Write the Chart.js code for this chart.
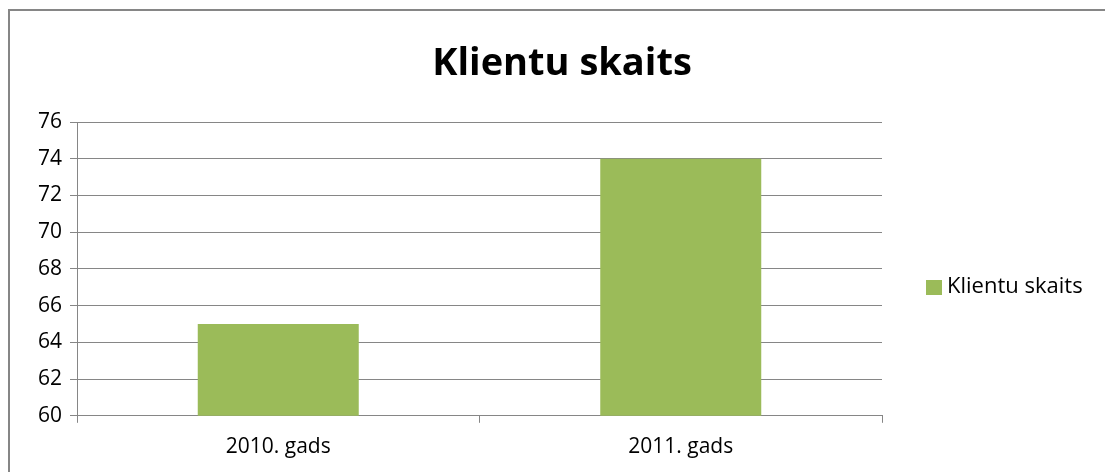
<!DOCTYPE html>
<html>
<head>
<meta charset="utf-8">
<script src="https://cdn.jsdelivr.net/npm/chart.js@4"></script>
<style>
html,body{margin:0;padding:0;background:#fff;overflow:hidden;width:1105px;height:472px;}
#frame{position:absolute;left:8px;top:9px;width:1104px;height:480px;border:2px solid #868686;box-sizing:content-box;}
#wrap{position:absolute;left:0;top:0;width:1104px;height:461px;}
</style>
</head>
<body>
<div id="frame"><div id="wrap"><canvas id="c"></canvas></div></div>
<script>
const categories = ["2010. gads", "2011. gads"];
const seriesName = "Klientu skaits";
const values = [65, 74];
const chartTitle = "Klientu skaits";
const yMin = 60, yMax = 76, yStep = 2;

const font = "'Open Sans', sans-serif";

const sideLegend = {
  id: 'sideLegend',
  afterDraw(chart) {
    const ctx = chart.ctx, ds = chart.data.datasets[0];
    const x = chart.chartArea.right + 44;
    const y = 276;
    ctx.save();
    ctx.fillStyle = ds.backgroundColor;
    ctx.fillRect(x, y - 7, 16, 15);
    ctx.fillStyle = '#000';
    ctx.font = "22px " + font;
    ctx.textBaseline = 'middle';
    ctx.textAlign = 'left';
    ctx.fillText(ds.label, x + 21, y);
    ctx.restore();
  }
};

new Chart(document.getElementById('c'), {
  type: 'bar',
  data: {
    labels: categories,
    datasets: [{
      label: seriesName,
      data: values,
      backgroundColor: '#9BBB59',
      borderWidth: 0,
      categoryPercentage: 1,
      barPercentage: 0.4
    }]
  },
  options: {
    responsive: true,
    maintainAspectRatio: false,
    animation: false,
    layout: { padding: { left: 0, right: 0, top: 7, bottom: 0 } },
    plugins: {
      title: {
        display: true, text: chartTitle, color: '#000',
        font: { family: font, size: 38, weight: 'bold', lineHeight: 1.3 },
        padding: { top: 21, bottom: 33.6 }
      },
      legend: { display: false },
      tooltip: { enabled: false }
    },
    scales: {
      x: {
        offset: true,
        grid: { display: true, drawOnChartArea: false, offset: true, color: '#868686', tickLength: 7 },
        border: { color: '#868686' },
        ticks: { color: '#000', font: { family: font, size: 21 }, padding: 12 }
      },
      y: {
        min: yMin, max: yMax,
        afterFit(s) { s.width = 67; },
        ticks: { stepSize: yStep, color: '#000', font: { family: font, size: 21 }, padding: 8 },
        grid: { color: '#868686', tickLength: 7 },
        border: { color: '#868686' }
      },
      legendSpace: {
        position: 'right',
        afterFit(s) { s.width = 232; },
        ticks: { display: false },
        grid: { display: false },
        border: { display: false }
      }
    }
  },
  plugins: [sideLegend]
});
</script>
</body>
</html>
